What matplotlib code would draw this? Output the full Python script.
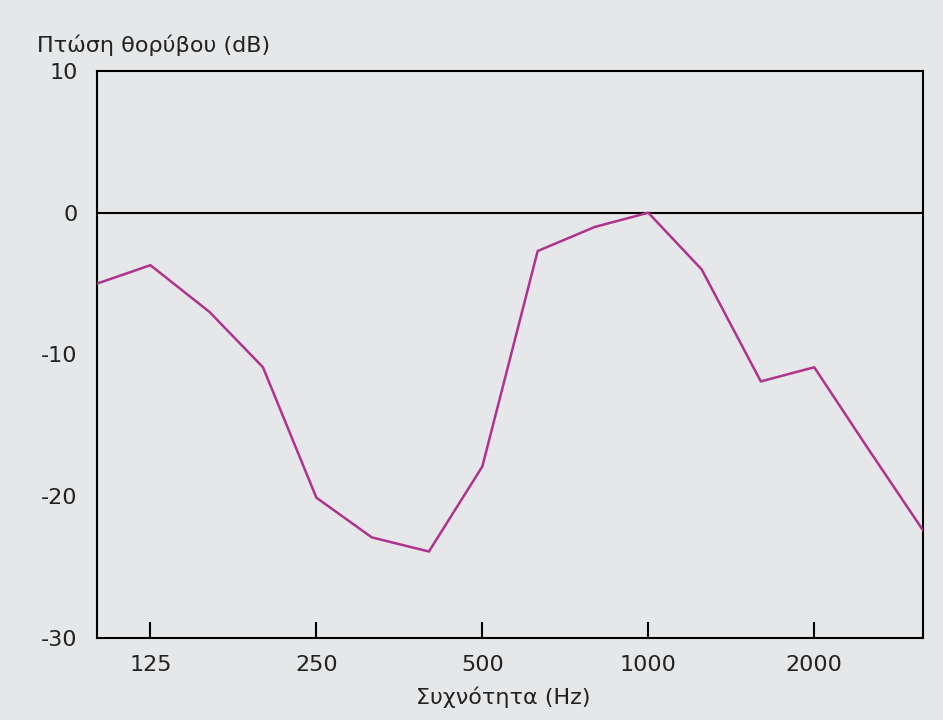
import numpy as np
import matplotlib
matplotlib.use("Agg")
import matplotlib.pyplot as plt
from matplotlib.ticker import FixedLocator, NullLocator

# --- Datos (bandas de 1/3 de octava) ---
freqs = [100, 125, 160, 200, 250, 315, 400, 500, 630, 800, 1000, 1250, 1600, 2000, 2500, 3150]
noise_drop = [-5.0, -3.7, -7.0, -10.9, -20.1, -22.9, -23.9, -17.9, -2.7, -1.0, 0.0, -4.0, -11.9, -10.9, -16.6, -22.4]

x_ticks = [125, 250, 500, 1000, 2000]
x_tick_labels = ["125", "250", "500", "1000", "2000"]
y_ticks = [-30, -20, -10, 0, 10]

BG = "#e5e7e9"
LINE = "#b0328f"

plt.rcParams['font.family'] = ['DejaVu Sans']

fig = plt.figure(figsize=(9.43, 7.2), dpi=100, facecolor=BG)
ax = fig.add_axes([97 / 943, 1 - 638 / 720, (923 - 97) / 943, (638 - 71) / 720])
ax.set_facecolor(BG)

ax.plot(freqs, noise_drop, color=LINE, linewidth=1.8, zorder=3)
ax.axhline(0, color="black", linewidth=1.5, zorder=2)

ax.set_xscale("log")
ax.set_xlim(100, 3150)
ax.set_ylim(-30, 10)

ax.xaxis.set_major_locator(FixedLocator(x_ticks))
ax.xaxis.set_minor_locator(NullLocator())
ax.set_xticklabels(x_tick_labels)
ax.set_yticks(y_ticks)
ax.set_yticklabels([str(v) for v in y_ticks])

ax.tick_params(axis="x", direction="in", length=11.5, width=1.5, pad=12,
               labelsize=16, colors="black", labelcolor="#222222")
ax.tick_params(axis="y", length=0, pad=14, labelsize=16, labelcolor="#222222")

for s in ax.spines.values():
    s.set_linewidth(1.5)
    s.set_color("black")

fig.text(37 / 943, 1 - 45 / 720, "Πτώση θορύβου (dB)", fontsize=16,
         ha="left", va="center", color="#222222")
fig.text(503 / 943, 1 - 697 / 720, "Συχνότητα (Hz)", fontsize=16,
         ha="center", va="center", color="#222222")

fig.savefig("out.png", dpi=100, facecolor=BG)
